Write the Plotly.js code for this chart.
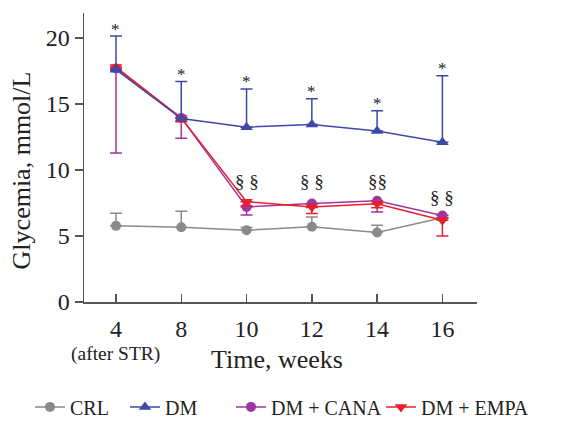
<!DOCTYPE html>
<html><head><meta charset="utf-8">
<script src="https://cdn.plot.ly/plotly-3.0.1.min.js"></script>
<style>html,body{margin:0;padding:0;background:#fff}#c{width:587px;height:424px}</style>
</head><body><div id="c"></div>
<script>
const weeks = ['4','8','10','12','14','16'];
const crl = [5.77, 5.67, 5.44, 5.7, 5.27, 6.38];
const crlErr = [0.95, 1.2, 0.2, 0.75, 0.55, 0.2];
const dm = [17.6, 13.9, 13.25, 13.45, 12.95, 12.1];
const dmErr = [2.55, 2.8, 2.9, 1.95, 1.55, 5.05];
const cana = [17.7, 13.95, 7.2, 7.47, 7.67, 6.55];
const canaErr = [6.4, 1.55, 0.6, 0.3, 0.85, 0.2];
const empa = [17.8, 13.95, 7.6, 7.2, 7.45, 6.2];
const empaErr = [0.3, 0.3, 0.3, 0.5, 0.3, 1.2];
const starLabels = ['*','*','*','*','*','*'];
const sectLabels = ['', '', '§ §', '§ §', '§§', '§ §'];
const sectY = [null, null, 9.1, 9.1, 9.1, 7.95];

const SERIF = 'Liberation Serif';
const TXT = '#222';
const zeros = weeks.map(()=>0);
function tr(name, y, up, down, color, sym, size, leg){
  return {x: weeks, y: y, name: name, type:'scatter', mode:'lines+markers', legend: leg,
    line:{color:color, width:1.5},
    marker:{color:color, symbol:sym, size:size},
    error_y:{type:'data', array: up, arrayminus: down, symmetric:false, color:color, thickness:1.5, width:6}};
}
const data = [
  tr('CRL', crl, crlErr, zeros, '#8a8a8a', 'circle', 10, 'legend'),
  tr('DM + CANA', cana, zeros, canaErr, '#a0369f', 'circle', 10, 'legend3'),
  tr('DM + EMPA', empa, zeros, empaErr, '#e8202c', 'triangle-down', 11, 'legend4'),
  tr('DM', dm, dmErr, zeros, '#3d48a8', 'triangle-up', 11, 'legend2')
];
const ann = [];
weeks.forEach((w,i)=>{
  ann.push({x:i, y: dm[i]+dmErr[i], text: starLabels[i], showarrow:false, yanchor:'middle', yshift:7,
    font:{family:SERIF, size:17, color:TXT}});
  if (sectLabels[i]) ann.push({x:i, y: sectY[i], text: sectLabels[i], showarrow:false, yanchor:'middle',
    font:{family:SERIF, size:19, color:TXT}});
});
ann.push({xref:'x', yref:'paper', x:0, y:-0.18, text:'(after STR)', showarrow:false, yanchor:'middle',
  font:{family:SERIF, size:19.5, color:TXT}});
ann.push({xref:'paper', yref:'paper', x:0.491, y:-0.2, text:'Time, weeks', showarrow:false, yanchor:'middle', xanchor:'center',
  font:{family:SERIF, size:26, color:TXT}});
ann.push({xref:'paper', yref:'paper', x:-0.158, y:0.455, text:'Glycemia, mmol/L', showarrow:false, textangle:-90,
  yanchor:'middle', xanchor:'center', font:{family:SERIF, size:26, color:TXT}});

function leg(xpx){
  return {orientation:'h', x:(xpx-84)/393, xanchor:'left', y:-0.363, yanchor:'middle',
    font:{family:SERIF, size:20, color:TXT}, itemwidth:30, bgcolor:'rgba(0,0,0,0)'};
}
const layout = {
  width:587, height:424,
  margin:{l:84, r:110, t:13, b:122, autoexpand:false},
  paper_bgcolor:'#fff', plot_bgcolor:'#fff',
  font:{family:SERIF, color:TXT},
  showlegend:true,
  legend: leg(30), legend2: leg(125), legend3: leg(231), legend4: leg(381),
  xaxis:{type:'category', range:[-0.49, 5.53], showline:true, linecolor:'#555', linewidth:1.5,
    ticks:'inside', ticklen:8, tickcolor:'#555', tickwidth:1.5, showgrid:false, zeroline:false,
    ticklabelstandoff:5, automargin:false,
    tickfont:{family:SERIF, size:24, color:TXT}},
  yaxis:{range:[0, 21.9], tickvals:[0,5,10,15,20], showline:true, linecolor:'#555', linewidth:1.5,
    ticks:'outside', ticklen:8, tickcolor:'#555', tickwidth:1.5, showgrid:false, zeroline:false,
    automargin:false, tickfont:{family:SERIF, size:24, color:TXT}},
  annotations: ann
};
Plotly.newPlot('c', data, layout, {staticPlot:true, displayModeBar:false});
</script></body></html>
